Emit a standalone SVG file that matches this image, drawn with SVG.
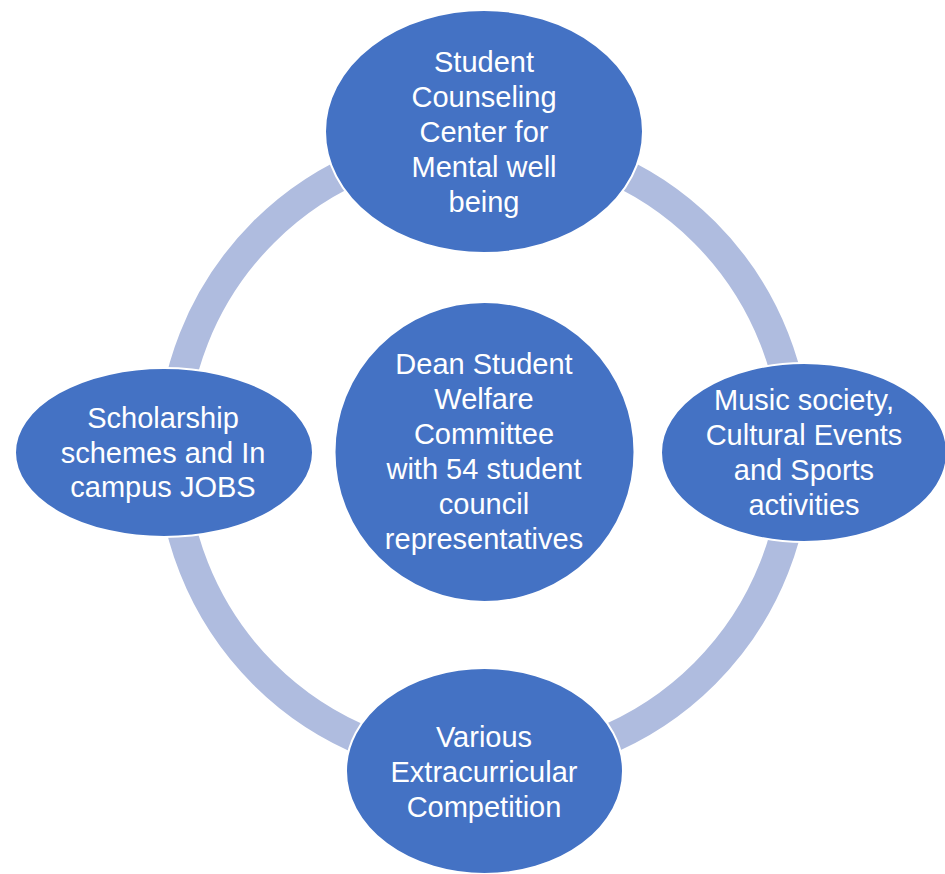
<svg xmlns="http://www.w3.org/2000/svg" width="945" height="874" viewBox="0 0 945 874">
<style>
.node{fill:#4472C4;stroke:#FFFFFF;stroke-width:2}
.lbl{font-family:"Liberation Sans",Arial,sans-serif;font-size:29px;fill:#FFFFFF;text-anchor:middle}
.ring{fill:none;stroke:#AFBCDF;stroke-width:30}
</style>
<rect width="945" height="874" fill="#FFFFFF"/>
<g id="connectors">
<circle class="ring" cx="484" cy="453" r="312"/>
</g>
<g id="node-top">
<ellipse class="node" cx="484" cy="131.5" rx="159" ry="121.5"/>
<text class="lbl"><tspan x="484" y="72">Student</tspan><tspan x="484" y="107">Counseling</tspan><tspan x="484" y="142">Center for</tspan><tspan x="484" y="177">Mental well</tspan><tspan x="484" y="212">being</tspan></text>
</g>
<g id="node-left">
<ellipse class="node" cx="164" cy="452.5" rx="149" ry="84.5"/>
<text class="lbl"><tspan x="163" y="428">Scholarship</tspan><tspan x="163" y="463">schemes and In</tspan><tspan x="163" y="497">campus JOBS</tspan></text>
</g>
<g id="node-right">
<ellipse class="node" cx="804" cy="452.5" rx="143" ry="89.5"/>
<text class="lbl"><tspan x="804" y="410">Music society,</tspan><tspan x="804" y="445">Cultural Events</tspan><tspan x="804" y="480">and Sports</tspan><tspan x="804" y="515">activities</tspan></text>
</g>
<g id="node-bottom">
<ellipse class="node" cx="484.5" cy="771" rx="138.5" ry="103"/>
<text class="lbl"><tspan x="484" y="747">Various</tspan><tspan x="484" y="782">Extracurricular</tspan><tspan x="484" y="817">Competition</tspan></text>
</g>
<g id="node-center">
<circle class="node" cx="484.5" cy="452" r="150"/>
<text class="lbl"><tspan x="484" y="374">Dean Student</tspan><tspan x="484" y="409">Welfare</tspan><tspan x="484" y="444">Committee</tspan><tspan x="484" y="479">with 54 student</tspan><tspan x="484" y="514">council</tspan><tspan x="484" y="549">representatives</tspan></text>
</g>
</svg>
